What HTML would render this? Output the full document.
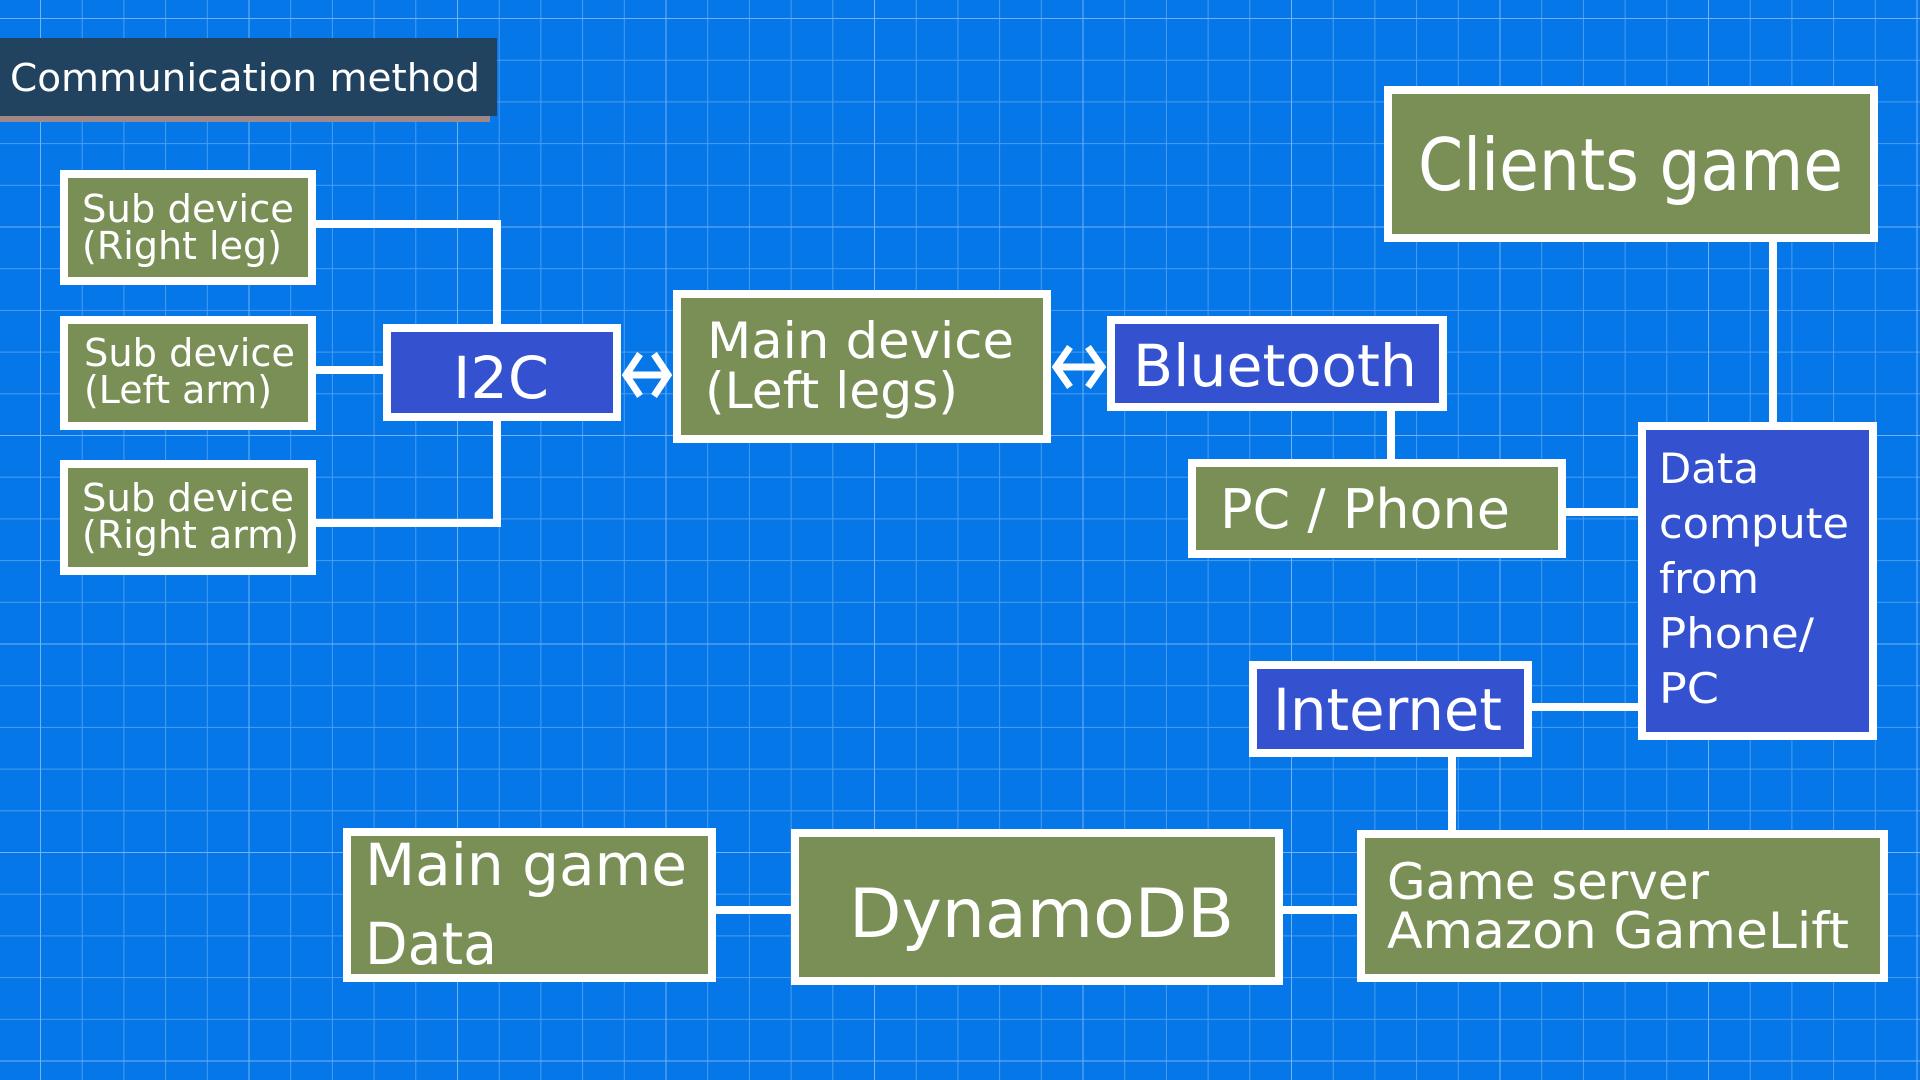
<!DOCTYPE html>
<html><head><meta charset="utf-8"><style>
html,body{margin:0;padding:0;width:1920px;height:1080px;overflow:hidden;background:#0577e8}
svg{display:block}
text{font-family:"DejaVu Sans","Liberation Sans",sans-serif;fill:#fff}
</style></head><body>
<svg width="1920" height="1080" viewBox="0 0 1920 1080" xmlns="http://www.w3.org/2000/svg">
<defs>
<pattern id="g" x="40" y="18" width="41.7" height="41.7" patternUnits="userSpaceOnUse">
<path d="M0 0V41.7M0 0H41.7" stroke="rgba(255,255,255,0.28)" stroke-width="2" fill="none"/>
</pattern>
<pattern id="G" x="40" y="18" width="208.5" height="208.5" patternUnits="userSpaceOnUse">
<path d="M0 0V208.5M0 0H208.5" stroke="rgba(255,255,255,0.22)" stroke-width="2" fill="none"/>
</pattern>
</defs>
<rect width="1920" height="1080" fill="#0577e8"/>
<rect width="1920" height="1080" fill="url(#g)"/>
<rect width="1920" height="1080" fill="url(#G)"/>

<rect x="0" y="116" width="490" height="6" fill="#a08888"/>
<rect x="0" y="38" width="497" height="78" fill="#21435f"/>
<text x="10" y="91" font-size="38" textLength="470" lengthAdjust="spacingAndGlyphs">Communication method</text>

<g stroke="#fff" stroke-width="8" fill="none">
<polyline points="316,224 497,224 497,324"/>
<line x1="316" y1="370" x2="383" y2="370"/>
<polyline points="316,523 497,523 497,421"/>
<line x1="1391" y1="411" x2="1391" y2="459"/>
<line x1="1566" y1="512" x2="1638" y2="512"/>
<line x1="1773" y1="242" x2="1773" y2="422"/>
<line x1="1532" y1="707" x2="1638" y2="707"/>
<line x1="1452" y1="757" x2="1452" y2="830"/>
<line x1="1283" y1="910" x2="1357" y2="910"/>
<line x1="716" y1="910" x2="791" y2="910"/>
</g>
<g stroke="#fff" stroke-width="7" fill="none">
<line x1="626" y1="375" x2="668" y2="375"/>
<polyline points="640,354 626,375 640,396"/>
<polyline points="654,354 668,375 654,396"/>
<line x1="1056" y1="367" x2="1102" y2="367"/>
<polyline points="1070,347 1056,367 1070,387"/>
<polyline points="1088,347 1102,367 1088,387"/>
</g>

<g stroke="#fff" stroke-width="8">
<rect x="64" y="174" width="248" height="107" fill="#7a8f55"/>
<rect x="64" y="320" width="248" height="106" fill="#7a8f55"/>
<rect x="64" y="464" width="248" height="107" fill="#7a8f55"/>
<rect x="387" y="328" width="230" height="89" fill="#3451cf"/>
<rect x="677" y="294" width="370" height="145" fill="#7a8f55"/>
<rect x="1111" y="320" width="332" height="87" fill="#3451cf"/>
<rect x="1192" y="463" width="370" height="91" fill="#7a8f55"/>
<rect x="1388" y="90" width="486" height="148" fill="#7a8f55"/>
<rect x="1642" y="426" width="231" height="310" fill="#3451cf"/>
<rect x="1253" y="665" width="275" height="88" fill="#3451cf"/>
<rect x="1361" y="834" width="523" height="144" fill="#7a8f55"/>
<rect x="795" y="833" width="484" height="148" fill="#7a8f55"/>
<rect x="347" y="832" width="365" height="146" fill="#7a8f55"/>
</g>

<text x="82" y="222" font-size="38" textLength="212" lengthAdjust="spacingAndGlyphs">Sub device</text>
<text x="82" y="259" font-size="38" textLength="200" lengthAdjust="spacingAndGlyphs">(Right leg)</text>
<text x="84" y="366" font-size="38" textLength="211" lengthAdjust="spacingAndGlyphs">Sub device</text>
<text x="84" y="403" font-size="38" textLength="188" lengthAdjust="spacingAndGlyphs">(Left arm)</text>
<text x="82" y="511" font-size="38" textLength="212" lengthAdjust="spacingAndGlyphs">Sub device</text>
<text x="82" y="548" font-size="38" textLength="217" lengthAdjust="spacingAndGlyphs">(Right arm)</text>
<text x="453" y="398" font-size="58" textLength="96" lengthAdjust="spacingAndGlyphs">I2C</text>
<text x="707" y="358" font-size="50" textLength="307" lengthAdjust="spacingAndGlyphs">Main device</text>
<text x="705" y="408" font-size="50" textLength="253" lengthAdjust="spacingAndGlyphs">(Left legs)</text>
<text x="1133" y="386" font-size="58" textLength="284" lengthAdjust="spacingAndGlyphs">Bluetooth</text>
<text x="1220" y="528" font-size="54" textLength="290" lengthAdjust="spacingAndGlyphs">PC / Phone</text>
<text x="1418" y="190" font-size="72" textLength="425" lengthAdjust="spacingAndGlyphs">Clients game</text>
<text x="1659" y="483" font-size="42" textLength="100" lengthAdjust="spacingAndGlyphs">Data</text>
<text x="1659" y="538" font-size="42" textLength="190" lengthAdjust="spacingAndGlyphs">compute</text>
<text x="1659" y="593" font-size="42" textLength="100" lengthAdjust="spacingAndGlyphs">from</text>
<text x="1659" y="648" font-size="42" textLength="155" lengthAdjust="spacingAndGlyphs">Phone/</text>
<text x="1659" y="703" font-size="42" textLength="60" lengthAdjust="spacingAndGlyphs">PC</text>
<text x="1273" y="730" font-size="58" textLength="229" lengthAdjust="spacingAndGlyphs">Internet</text>
<text x="1387" y="899" font-size="50" textLength="322" lengthAdjust="spacingAndGlyphs">Game server</text>
<text x="1387" y="948" font-size="50" textLength="462" lengthAdjust="spacingAndGlyphs">Amazon GameLift</text>
<text x="849" y="937" font-size="68" textLength="385" lengthAdjust="spacingAndGlyphs">DynamoDB</text>
<text x="365" y="885" font-size="58" textLength="322" lengthAdjust="spacingAndGlyphs">Main game</text>
<text x="365" y="964" font-size="58" textLength="132" lengthAdjust="spacingAndGlyphs">Data</text>
</svg>
</body></html>
